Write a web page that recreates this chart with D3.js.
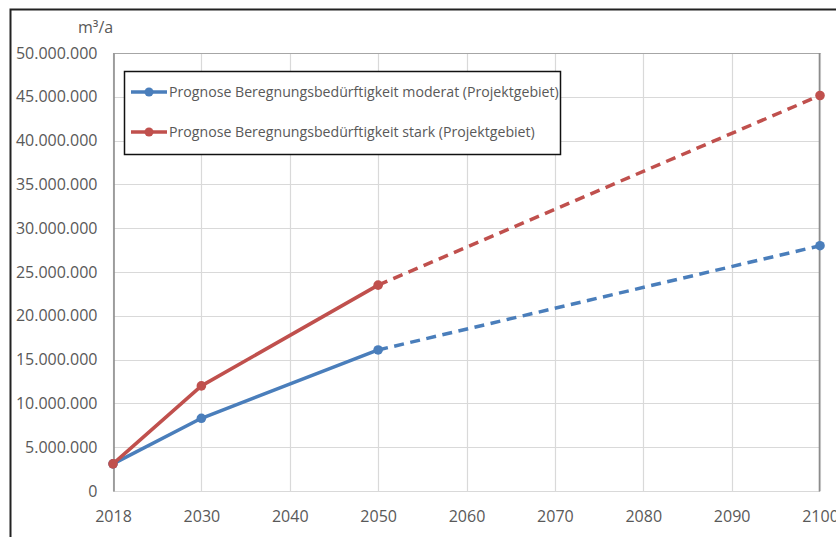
<!DOCTYPE html>
<html>
<head>
<meta charset="utf-8">
<script src="https://cdn.jsdelivr.net/npm/d3@7"></script>
<style>
  html, body { margin: 0; padding: 0; background: #fff; }
  svg { display: block; font-family: "Open Sans", sans-serif; }
</style>
</head>
<body>
<svg id="chart" width="836" height="537"></svg>
<script>
// Forecast of irrigation demand in the project area (m³ per year)
const years = ["2018", "2030", "2040", "2050", "2060", "2070", "2080", "2090", "2100"];
const knownYears = ["2018", "2030", "2050"];
const forecastYears = ["2050", "2100"];
const moderatKnown = [3100000, 8300000, 16100000];
const moderatForecast = [16100000, 28000000];
const starkKnown = [3100000, 12000000, 23500000];
const starkForecast = [23500000, 45150000];
const yTicks = [0, 5000000, 10000000, 15000000, 20000000, 25000000, 30000000, 35000000, 40000000, 45000000, 50000000];
const seriesNames = [
  "Prognose Beregnungsbedürftigkeit moderat (Projektgebiet)",
  "Prognose Beregnungsbedürftigkeit stark (Projektgebiet)"
];
const seriesColors = ["#4a7ebb", "#c0504d"];
const textColor = "#595959";
const fontFamily = "'Open Sans', sans-serif";

const svg = d3.select("#chart");
const x = d3.scalePoint().domain(years).range([113, 820]);
const y = d3.scaleLinear().domain([0, 50000000]).range([491, 53]);
const fmt = v => d3.format(",")(v).replace(/,/g, ".");

// outer chart frame
svg.append("rect").attr("x", 10.5).attr("y", 9.5).attr("width", 840).attr("height", 540)
  .attr("fill", "none").attr("stroke", "#222").attr("stroke-width", 2);

// gridlines
const grid = svg.append("g").attr("stroke", "#d9d9d9").attr("stroke-width", 1.2);
grid.selectAll("line.h").data(yTicks).join("line")
  .attr("x1", x(years[0])).attr("x2", x(years[years.length - 1]))
  .attr("y1", d => Math.round(y(d)) + 0.5).attr("y2", d => Math.round(y(d)) + 0.5);
grid.selectAll("line.v").data(years).join("line")
  .attr("x1", d => Math.round(x(d)) + 0.5).attr("x2", d => Math.round(x(d)) + 0.5)
  .attr("y1", y(50000000)).attr("y2", y(0));

// plot border: top and right edges
svg.append("line").attr("x1", x(years[0])).attr("x2", 820.5).attr("y1", 53.5).attr("y2", 53.5)
  .attr("stroke", "#a6a6a6").attr("stroke-width", 1.2);
svg.append("line").attr("x1", 819.5).attr("x2", 819.5).attr("y1", 53).attr("y2", 491.5)
  .attr("stroke", "#8c8c8c").attr("stroke-width", 1.6);

// y axis
const yAxis = svg.append("g").attr("transform", "translate(113.5,0)")
  .call(d3.axisLeft(y).tickValues(yTicks).tickFormat(fmt).tickSize(0).tickPadding(16));
yAxis.select(".domain").attr("stroke", "#8c8c8c").attr("stroke-width", 1.6);
yAxis.selectAll("text").attr("font-size", 16).attr("fill", textColor).attr("font-family", fontFamily);

// x axis
const xAxis = svg.append("g").attr("transform", "translate(0,491.5)")
  .call(d3.axisBottom(x).tickSize(0).tickPadding(19.5));
xAxis.select(".domain").remove();
xAxis.selectAll("text").attr("font-size", 16).attr("fill", textColor).attr("font-family", fontFamily);

// unit label
svg.append("text").attr("x", 78).attr("y", 33).attr("font-size", 16)
  .attr("fill", textColor).text("m³/a");

// series lines
const line = d3.line().x(d => x(d[0])).y(d => y(d[1]));
const series = [
  { known: d3.zip(knownYears, moderatKnown), forecast: d3.zip(forecastYears, moderatForecast), color: seriesColors[0] },
  { known: d3.zip(knownYears, starkKnown), forecast: d3.zip(forecastYears, starkForecast), color: seriesColors[1] }
];
series.forEach(s => {
  svg.append("path").attr("d", line(s.known)).attr("fill", "none")
    .attr("stroke", s.color).attr("stroke-width", 3.5).attr("stroke-linejoin", "round");
  svg.append("path").attr("d", line(s.forecast)).attr("fill", "none")
    .attr("stroke", s.color).attr("stroke-width", 3.5).attr("stroke-dasharray", "10,6.5");
  svg.selectAll(null).data(s.known.concat(s.forecast.slice(1))).join("circle")
    .attr("cx", d => x(d[0])).attr("cy", d => y(d[1])).attr("r", 4.8).attr("fill", s.color);
});

// legend
const legend = svg.append("g");
legend.append("rect").attr("x", 124.5).attr("y", 71.5).attr("width", 436).attr("height", 83)
  .attr("fill", "#fff").attr("stroke", "#111").attr("stroke-width", 1.5);
seriesNames.forEach((name, i) => {
  const ly = 92 + i * 40;
  legend.append("line").attr("x1", 131).attr("x2", 167).attr("y1", ly).attr("y2", ly)
    .attr("stroke", seriesColors[i]).attr("stroke-width", 3.5);
  legend.append("circle").attr("cx", 149).attr("cy", ly).attr("r", 4.5).attr("fill", seriesColors[i]);
  legend.append("text").attr("x", 169).attr("y", ly + 5).attr("font-size", 14.15)
    .attr("font-family", fontFamily).attr("fill", textColor).text(name);
});
</script>
</body>
</html>
